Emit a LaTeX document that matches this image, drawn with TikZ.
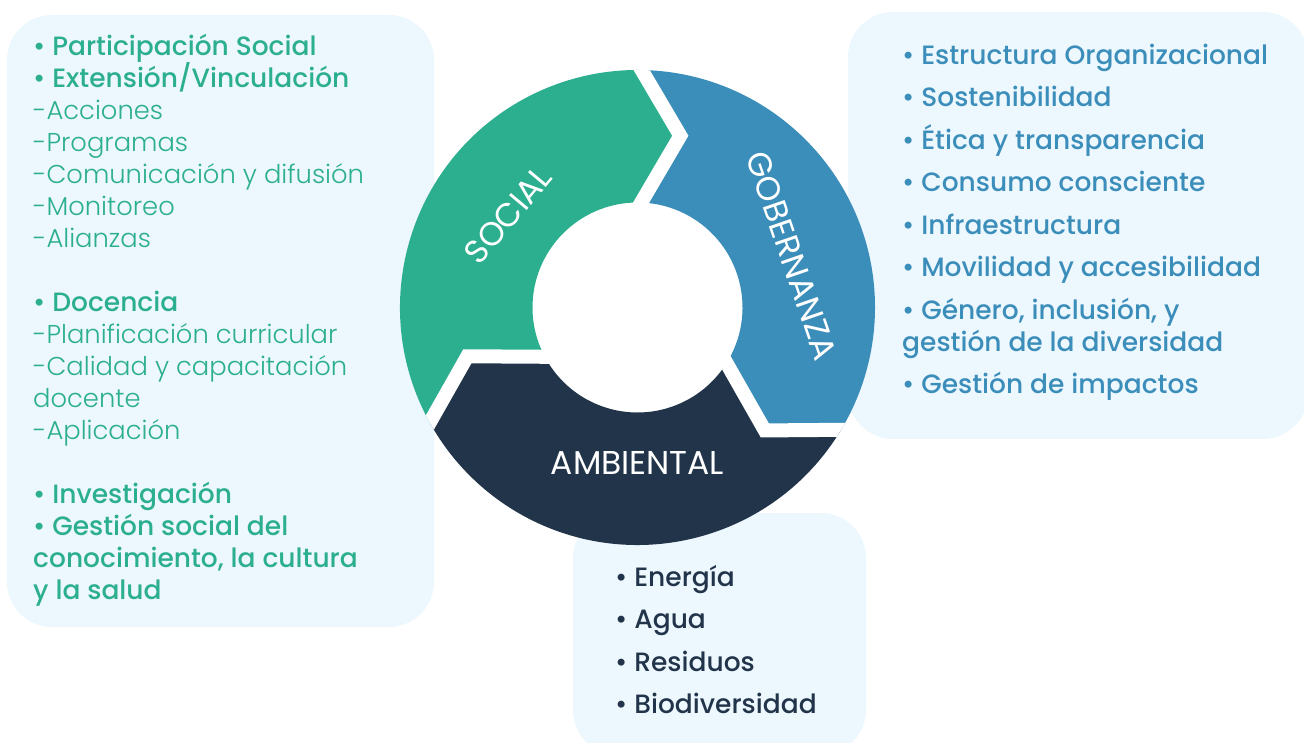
\documentclass[tikz,border=0pt]{standalone}
\usepackage{fontspec}
\setmainfont{Poppins}
\newfontfamily\medfont{Poppins Medium}
\newfontfamily\lightfont{Poppins Light}
\usetikzlibrary{calc}
\definecolor{socialgreen}{RGB}{44,175,143}
\definecolor{govblue}{RGB}{59,141,186}
\definecolor{envnavy}{RGB}{34,52,73}
\definecolor{boxfill}{RGB}{236,247,254}
\tikzstyle{info box}=[fill=boxfill, rounded corners=45pt]
\tikzstyle{item list}=[anchor=north west, inner sep=0, align=left, font=\fontsize{26.5}{32}\selectfont\medfont]
\tikzstyle{ring label}=[text=white, inner sep=0, font=\fontsize{33}{38}\selectfont]
\tikzstyle{ring gap}=[draw=white, line width=14pt, line join=miter]
\newcommand{\lighttext}[1]{{\fontsize{25.8}{32}\selectfont\lightfont #1}}

\begin{document}
\begin{tikzpicture}[x=1pt, y=1pt]
      \useasboundingbox (0,0) rectangle (1304,743);

      \fill[info box] (7,116) rectangle (434,728);
      \fill[info box] (848,304) rectangle (1308,731);
      \fill[info box] (573,-12) rectangle (866,230);

      \coordinate (ring) at (637.5,435.5);
      \foreach \h/\col in {89/socialgreen, -31/govblue, -151/envnavy}
        \fill[\col] ($(ring)+(\h+120:237.5)$) arc[start angle=\h+120, end angle=\h, radius=237.5]
          -- ($(ring)+(\h-13:177)$) -- ($(ring)+(\h-1:105)$)
          arc[start angle=\h-1, end angle=\h+119, radius=105]
          -- ($(ring)+(\h+107:177)$) -- cycle;

      \begin{scope}
        \clip (ring) circle[radius=237.5];
        \foreach \h in {89, -31, -151} {
          \coordinate (tip) at ($(ring)+(\h-13:177)$);
          \coordinate (outer) at ($(ring)+(\h:237.5)$);
          \coordinate (inner) at ($(ring)+(\h-1:105)$);
          \draw[ring gap] ($(tip)!1.4!(outer)$) -- (tip) -- ($(tip)!1.6!(inner)$);
        }
      \end{scope}

      \node[ring label, rotate=50] (social) at ($(ring)+(144.5:159)$) {SOCIAL};
      \node[ring label, rotate=-71] (gobernanza) at ($(ring)+(18.6:162.7)$) {GOBERNANZA};
      \node[ring label] (ambiental) at ($(ring)+(270:155.5)$) {AMBIENTAL};

      \node[item list, text=socialgreen] (social items) at (33,716) {\rule{0pt}{28pt}• Participación Social\\
        • Extensión/Vinculación\\
        \lighttext{-Acciones}\\
        \lighttext{-Programas}\\
        \lighttext{-Comunicación y difusión}\\
        \lighttext{-Monitoreo}\\
        \lighttext{-Alianzas}\\[32pt]
        • Docencia\\
        \lighttext{-Planificación curricular}\\
        \lighttext{-Calidad y capacitación}\\
        \lighttext{docente}\\
        \lighttext{-Aplicación}\\[32pt]
        • Investigación\\
        • Gestión social del\\
        conocimiento, la cultura\\
        y la salud};

      \node[item list, text=govblue] (gobernanza items) at (902,707) {\rule{0pt}{28pt}• Estructura Organizacional\\[10.5pt]
        • Sostenibilidad\\[10.5pt]
        • Ética y transparencia\\[10.5pt]
        • Consumo consciente\\[10.5pt]
        • Infraestructura\\[10.5pt]
        • Movilidad y accesibilidad\\[10.5pt]
        • Género, inclusión, y\\
        gestión de la diversidad\\[10.5pt]
        • Gestión de impactos};

      \node[item list, text=envnavy] (ambiental items) at (615,185) {\rule{0pt}{28pt}• Energía\\[10.5pt]
        • Agua\\[10.5pt]
        • Residuos\\[10.5pt]
        • Biodiversidad};
    \end{tikzpicture}
\end{document}
